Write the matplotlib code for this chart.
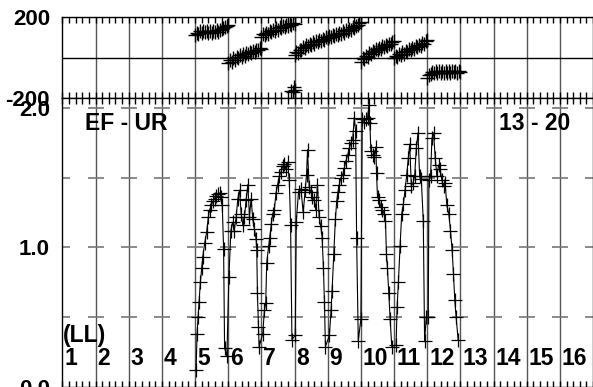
import numpy as np
import matplotlib
matplotlib.use("Agg")
import matplotlib.pyplot as plt
from matplotlib.ticker import MultipleLocator

plt.rcParams['font.family'] = ['Liberation Sans', 'DejaVu Sans']
plt.rcParams['font.weight'] = 'bold'

# top panel: phase values, one row per column (columns 5..12), 21 samples each
top_columns = [5, 6, 7, 8, 9, 10, 11, 12]
top_values = [
    [112, 124, 118, 130, 121, 133, 125, 131, 122, 134, 124, 130, 126, 136, 129, 138, 140, 147, 150, 158, 163],
    [-28, -14, -22, -4, -12, 4, -3, 12, 3, 18, 10, 23, 16, 28, 22, 34, 28, 40, 36, 46, 44],
    [104, 116, 110, 124, 118, 132, 126, 139, 132, 145, 139, 151, 146, 156, 150, 161, 156, 166, 162, 172, 168],
    [15, 28, 24, 40, 36, 52, 47, 62, 56, 70, 64, 76, 70, 82, 77, 88, 83, 94, 89, 100, 96],
    [96, 106, 100, 112, 106, 118, 112, 124, 118, 130, 124, 136, 130, 142, 138, 150, 146, 158, 160, 170, 178],
    [-20, -4, -8, 10, 4, 22, 16, 32, 26, 42, 36, 50, 44, 56, 52, 62, 58, 70, 66, 78, 82],
    [-4, 8, 4, 18, 12, 26, 20, 34, 28, 42, 36, 48, 44, 56, 52, 62, 60, 72, 70, 82, 88],
    [-102, -86, -82, -72, -78, -68, -76, -66, -74, -66, -75, -67, -74, -66, -75, -67, -73, -66, -74, -67, -70],
]
# a few stray points near column 8 start
stray_x = [6.90, 6.94, 6.97, 7.00]
stray_y = [-165, -170, -148, -160]

# bottom panel: ratio curve
ratio_x = [
    4.03, 4.06, 4.09, 4.12, 4.16, 4.20, 4.23, 4.29, 4.35, 4.40, 4.44, 4.49, 4.54, 4.59, 4.64, 4.69, 4.74, 4.78, 4.82, 4.86, 4.89, 4.96, 5.02,
    5.08, 5.13, 5.18, 5.24, 5.29, 5.34, 5.39, 5.44, 5.49, 5.54, 5.59, 5.64, 5.69, 5.74, 5.79, 5.84, 5.86, 5.88, 5.91, 5.93, 6.04, 6.09, 6.13,
    6.16, 6.22, 6.25, 6.30, 6.34, 6.39, 6.44, 6.49, 6.54, 6.59, 6.64, 6.69, 6.74, 6.79, 6.84, 6.88, 6.92, 7.02, 7.05,
    7.12, 7.19, 7.26, 7.32, 7.36, 7.39, 7.44, 7.49, 7.54, 7.59, 7.64, 7.69, 7.74, 7.79, 7.83, 7.87, 7.90, 7.93, 8.05, 8.10, 8.13,
    8.18, 8.23, 8.27, 8.31, 8.35, 8.40, 8.45, 8.50, 8.55, 8.60, 8.65, 8.70, 8.75, 8.80, 8.84, 8.87, 8.92, 9.00,
    9.04, 9.10, 9.15, 9.20, 9.24, 9.27, 9.30, 9.35, 9.40, 9.45, 9.47, 9.50, 9.55, 9.60, 9.65, 9.70, 9.74, 9.77, 9.80, 9.84, 9.88, 9.93, 10.06,
    10.09, 10.13, 10.18, 10.23, 10.28, 10.33, 10.38, 10.43, 10.47, 10.52, 10.57, 10.62, 10.67, 10.72, 10.77, 10.82, 10.88, 10.92, 10.97, 11.03,
    11.05, 11.10, 11.14, 11.19, 11.24, 11.29, 11.34, 11.39, 11.44, 11.49, 11.54, 11.59, 11.65, 11.70, 11.75, 11.79, 11.83, 11.87, 11.93,
]
ratio_y = [
    0.12, 0.38, 0.50, 0.61, 0.75, 0.85, 0.93, 1.03, 1.11, 1.22, 1.27, 1.30, 1.33, 1.35, 1.37, 1.38, 1.39, 1.36, 1.30, 0.99, 0.28, 0.22, 0.79,
    1.12, 1.18, 1.12, 1.22, 1.35, 1.41, 1.24, 1.16, 1.22, 1.34, 1.45, 1.22, 1.35, 1.20, 1.13, 1.06, 0.98, 0.67, 0.43, 0.29, 0.38, 0.55, 0.60,
    0.89, 1.01, 1.07, 1.17, 1.24, 1.27, 1.39, 1.45, 1.51, 1.54, 1.58, 1.60, 1.56, 1.61, 1.48, 1.16, 0.34, 0.37, 1.18,
    1.40, 1.42, 1.25, 1.41, 1.52, 1.70, 1.43, 1.40, 1.36, 1.34, 1.27, 1.45, 1.22, 1.15, 1.07, 0.85, 0.61, 0.29, 0.37, 0.55, 0.69,
    0.95, 1.20, 1.33, 1.40, 1.45, 1.50, 1.52, 1.57, 1.62, 1.66, 1.71, 1.75, 1.77, 1.93, 1.83, 1.07, 0.33, 0.49,
    1.92, 1.90, 1.92, 1.93, 2.02, 1.89, 1.69, 1.66, 1.65, 1.72, 1.53, 1.36, 1.34, 1.29, 1.27, 1.24, 1.19, 0.95, 0.85, 0.67, 0.49, 0.29, 0.30,
    0.57, 0.75, 1.01, 1.24, 1.31, 1.41, 1.52, 1.64, 1.74, 1.44, 1.46, 1.51, 1.71, 1.82, 1.51, 1.49, 1.19, 0.33, 0.50, 0.50,
    1.48, 1.51, 1.78, 1.82, 1.64, 1.51, 1.59, 1.56, 1.48, 1.44, 1.46, 1.30, 1.24, 1.12, 0.98, 0.81, 0.62, 0.50, 0.34,
]

column_labels = [str(i) for i in range(1, 17)]

fig = plt.figure(figsize=(5.93, 3.87), dpi=100)
ax_top = fig.add_axes([0.1052, 0.7468, 0.895, 0.2085])
ax_bot = fig.add_axes([0.1052, 0.0, 0.895, 0.7468])

grid_col = '#555555'

for ax in (ax_top, ax_bot):
    ax.set_xlim(0, 16)
    for gx in range(1, 16):
        ax.axvline(gx, color=grid_col, lw=1.0, zorder=1)
    ax.xaxis.set_major_locator(MultipleLocator(1))
    ax.xaxis.set_minor_locator(MultipleLocator(0.2))
    ax.tick_params(axis='x', which='both', direction='in', top=True, bottom=True,
                   labelbottom=False, length=4, width=1, color='black')
    ax.tick_params(axis='y', length=0, pad=9, labelsize=16)
    for s in ax.spines.values():
        s.set_linewidth(1.0)

# top panel
ax_top.set_ylim(-200, 200)
ax_top.set_yticks([-200, 200])
ax_top.set_yticklabels(['-200', '200'], fontweight='bold')
ax_top.axhline(0, color='black', lw=1.0, zorder=1)
for col, vals in zip(top_columns, top_values):
    xs = np.linspace(col - 1, col, len(vals))
    ax_top.plot(xs, vals, ls='none', marker='+', ms=10, mew=1.0, color='black', zorder=3)
ax_top.plot(stray_x, stray_y, ls='none', marker='+', ms=10, mew=1.0, color='black', zorder=3)

# bottom panel
ax_bot.set_ylim(0, 2.07)
ax_bot.set_yticks([0, 1, 2])
ax_bot.set_yticklabels(['0.0', '1.0', '2.0'], fontweight='bold')
dash_x, dash_y = np.meshgrid(np.arange(0, 17), [0.5, 1.0, 1.5, 2.0])
ax_bot.plot(dash_x.ravel(), dash_y.ravel(), ls='none', marker='_', ms=11, mew=1.2,
            color='#777777', zorder=2)
ax_bot.plot(ratio_x, ratio_y, color='black', lw=0.8, marker='+', ms=9.5, mew=0.9, zorder=3)

ax_bot.text(0.68, 1.84, 'EF - UR', fontsize=16.5, fontweight='bold', zorder=5)
ax_bot.text(13.17, 1.84, '13 - 20', fontsize=16.5, fontweight='bold', zorder=5)
ax_bot.text(0.02, 0.325, '(LL)', fontsize=16.5, fontweight='bold', zorder=5)
for i, lab in enumerate(column_labels):
    ax_bot.text(i + 0.06, 0.158, lab, fontsize=16.5, fontweight='bold', zorder=5)

fig.savefig('out.png', dpi=100)
